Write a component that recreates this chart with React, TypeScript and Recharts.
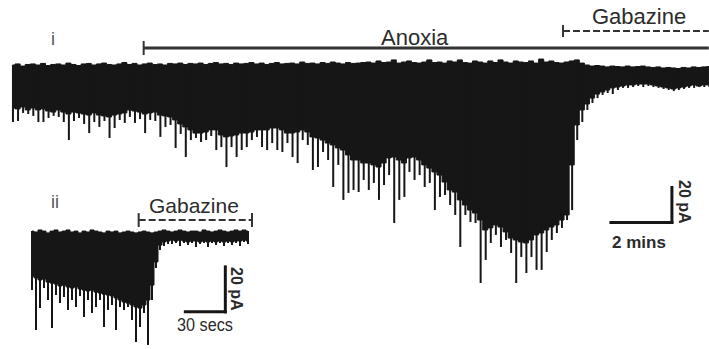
import React from 'react';
import { ComposedChart, Area, Bar, XAxis, YAxis, ReferenceLine } from 'recharts';

const W = 709;
const H = 349;

// Recording i: one value per 10 s bin (x in minutes), current in pA from the holding level
const BIN_I = 1 / 6;
const topI = [
  0, 0.6, -0.6, 0.3, 0.6, 0, 0.9, -0.3, 0.3, 0.6, 0, 1.1, 0.3, -0.3, 0.6, 0.9, 0, 0.6, 1.1, 0.3,
  0, 0.6, 1.4, 0.3, 0.9, 0, 0.6, 1.1, 0.3, 0.6, 0, 0.9, 0.6, 1.1, 0.3,
  0.9, 0.6, 1.1, 0.3, 0.9, 1.4, 0.6, 0.9, 0.3, 1.1, 0.6, 0.9, 1.4, 0.6, 1.1, 0.3, 0.9, 1.4, 0.6, 0.9,
  1.1, 0.6, 1.7, 0.9, 1.1, 0.6, 1.4, 0.9, 1.7, 1.1, 0.6, 1.4, 0.9, 1.1,
  1.4, 1.7, 1.1, 2.3, 1.4, 1.7, 2.9, 1.1, 1.7, 2.3, 1.4, 1.1, 1.7, 2.9, 1.4, 1.7, 1.1, 2.3, 1.7, 2.9,
  1.4, 1.1, 2.3, 1.7, 1.1, 2.3, 1.4, 2.9, 1.7, 1.1, 2.3, 1.7, 1.4, 2.3, 1.1, 3.4, 1.7, 2.3, 1.4, 1.1,
  1.7, 2.3,
  2.9, 1.1, 0, -0.6, -0.3, -0.6, -1.1, -0.6, -0.9, -1.1, -0.6, -1.1, -0.9, -0.6, -1.1, -1.4, -1.1,
  -1.7, -1.4, -1.7, -2.0, -1.4, -1.7, -1.1, -1.4, -1.1, -0.9,
];
// lower edge of the dense sIPSC band
const baseI = [
  -24.6, -25.1, -24.0, -25.7, -24.6, -25.7, -25.1, -26.3, -26.9, -25.7,
  -26.9, -28.0, -26.9, -27.4, -28.0, -28.6, -27.4, -28.6, -29.1, -29.7,
  -28.6, -28.0, -27.4, -25.7, -26.3, -26.9, -28.0, -27.4, -26.9, -28.6,
  -29.1, -29.7, -31.4, -33.7, -35.4, -37.1, -38.9, -38.9, -38.3, -37.1,
  -37.1, -40.0, -41.1, -40.6, -40.0, -38.9, -38.9, -38.3, -37.1, -37.1,
  -37.1, -36.0, -36.0, -37.1, -38.9, -38.9, -38.3, -37.1, -38.3, -41.1,
  -41.7, -42.9, -44.6, -45.7, -47.4, -48.6, -51.4, -54.3, -54.3, -56.0,
  -56.0, -57.1, -58.3, -56.0, -53.1, -52.6, -54.3, -56.0, -53.1, -52.6,
  -54.3, -57.1, -58.9, -61.1, -62.9, -66.9, -71.4, -72.6, -77.1, -80.0,
  -82.9, -84.6, -88.6, -94.3, -93.1, -91.4, -92.6, -95.4, -98.9, -100.0,
  -101.1, -101.7, -100.0, -97.1, -96.0, -94.3, -92.6, -91.4, -88.6, -85.7,
  -57.1, -34.3, -25.7, -22.3, -18.9, -16.6, -15.4, -14.3, -13.1, -12.6,
  -12.0, -11.4, -11.4, -10.9, -10.9, -10.9, -11.4, -12.0, -12.6, -13.1,
  -13.7, -13.1, -12.6, -12.0, -11.4, -12.0, -11.4, -11.4,
];
// deepest event in each bin
const peakI = [
  -32.6, -32.0, -27.4, -28.0, -29.1, -32.6, -32.6, -30.3, -29.1, -29.7,
  -32.6, -42.9, -32.0, -30.3, -33.7, -38.9, -32.6, -35.4, -32.0, -41.7,
  -36.0, -31.4, -33.1, -29.7, -33.1, -30.9, -38.9, -31.4, -32.0, -41.1,
  -35.4, -34.3, -47.4, -39.4, -52.6, -42.9, -41.7, -44.0, -42.9, -40.6,
  -48.6, -46.9, -58.3, -46.9, -52.6, -48.6, -46.9, -42.9, -41.1, -46.9,
  -48.6, -44.6, -48.6, -49.7, -44.6, -52.6, -56.0, -42.9, -45.7, -60.0,
  -58.3, -49.7, -54.3, -69.7, -57.1, -77.1, -73.1, -71.4, -72.6, -65.7,
  -71.4, -67.4, -77.1, -68.6, -62.9, -90.3, -77.1, -75.4, -61.1, -65.7,
  -62.9, -69.7, -67.4, -82.9, -75.4, -74.3, -80.0, -85.7, -104.0, -85.7,
  -89.7, -90.3, -124.6, -111.4, -101.7, -97.1, -104.0, -100.0, -107.4, -124.6,
  -109.7, -118.9, -109.7, -117.1, -117.1, -106.9, -100.0, -96.0, -93.1, -88.6,
  -82.9, -42.9, -32.6, -25.7, -21.7, -18.9, -17.1, -16.0, -16.6, -14.3,
  -13.1, -13.1, -12.6, -12.0, -12.6, -12.0, -12.6, -13.1, -13.7, -14.3,
  -14.9, -14.3, -13.7, -13.1, -13.1, -12.6, -12.6, -12.6,
];

// Recording ii: 3 s bins (x in seconds)
const BIN_II = 3;
const topII = [
  0.4, 0, 0.9, 0.4, -0.4, 0.4, 0.9, 0, 0.4, 0.9, 0, 0.4, -0.4, 0.4, 0, 0.9, 0.4, 0, -0.4, 0.4,
  0, 0.4, -0.4, 0, 0.4, 0, -0.4, 0, 0.4, 0,
  -0.4, 0, 0.4, 0.9, 0.4, 0, 0.4, 0.9, 0.4, 0, 0.4, 0.4, 0, 0.9, 0.4, 0, 0.4, 0.9, 0.4, 0,
  0.4, 0.9, 0.4, 0.9, 0.4,
];
const baseII = [
  -19.6, -20.4, -21.3, -20.9, -22.2, -22.7, -23.1, -24.0, -23.6, -24.4,
  -24.9, -24.4, -25.3, -25.8, -26.2, -25.8, -26.7, -27.1, -27.6, -28.0,
  -28.4, -29.3, -30.2, -31.1, -31.6, -32.4, -33.3, -33.8, -32.4, -30.2,
  -23.6, -13.3, -5.8, -4.4, -4.0, -3.6, -4.0, -3.6, -4.0, -4.4,
  -4.0, -4.0, -4.4, -4.0, -4.4, -4.0, -4.4, -4.0, -4.4, -4.0,
  -4.4, -4.0, -4.0, -3.6, -4.0,
];
const peakII = [
  -25.8, -43.6, -33.8, -24.9, -30.2, -42.7, -28.0, -31.6, -28.9, -34.7,
  -30.2, -33.3, -28.4, -37.8, -30.2, -36.0, -33.3, -30.2, -42.2, -34.7,
  -32.4, -43.6, -33.3, -34.7, -33.3, -39.1, -48.9, -42.2, -36.0, -50.2,
  -30.2, -16.0, -8.0, -6.2, -5.3, -5.3, -4.9, -6.2, -4.9, -5.8,
  -4.9, -6.7, -5.3, -4.9, -6.7, -4.9, -5.8, -4.9, -6.2, -4.9,
  -5.8, -4.9, -6.2, -4.4, -5.3,
];

const ANOXIA_START = 4.3; // min
const GBZ_I_START = 18.05; // min
const GBZ_II = [80, 165]; // s

const rowsI = topI.map((top, i) => ({ t: i * BIN_I, band: [top, baseI[i]], peak: [top, peakI[i]] }));
const rowsII = topII.map((top, i) => ({ t: i * BIN_II, band: [top, baseII[i]], peak: [top, peakII[i]] }));

const INK = '#161616';
const TXT = '#2b2b2b';
const zero = { top: 0, right: 0, bottom: 0, left: 0 };
const layer: React.CSSProperties = { position: 'absolute', left: 0, top: 0 };

export default function App() {
  return (
    <div style={{ position: 'fixed', left: 0, top: 0, width: W, height: H, background: '#fff', overflow: 'hidden' }}>
      <div style={layer}>
        <ComposedChart width={W} height={H} data={rowsI} margin={zero}>
          <XAxis dataKey="t" type="number" domain={[-0.41, 22.836]} hide allowDataOverflow />
          <YAxis type="number" domain={[-162.3, 37.14]} hide allowDataOverflow />
          <Bar dataKey="peak" barSize={2} fill={INK} isAnimationActive={false} />
          <Area dataKey="band" type="step" stroke={INK} strokeWidth={1} fill={INK} fillOpacity={1}
            dot={false} activeDot={false} isAnimationActive={false} />
          <ReferenceLine segment={[{ x: ANOXIA_START, y: 9.7 }, { x: 22.83, y: 9.7 }]} stroke="#333" strokeWidth={3} />
          <ReferenceLine segment={[{ x: ANOXIA_START, y: 13.7 }, { x: ANOXIA_START, y: 5.7 }]} stroke="#333" strokeWidth={2} />
          <ReferenceLine segment={[{ x: GBZ_I_START, y: 19.4 }, { x: 22.83, y: 19.4 }]} stroke="#333" strokeWidth={2} strokeDasharray="7 3" />
          <ReferenceLine segment={[{ x: GBZ_I_START, y: 22.9 }, { x: GBZ_I_START, y: 16 }]} stroke="#333" strokeWidth={2} />
          {/* scale bar: 20 pA / 2 min */}
          <ReferenceLine segment={[{ x: 21.62, y: -70 }, { x: 21.62, y: -90 }]} stroke={INK} strokeWidth={3} strokeLinecap="square" />
          <ReferenceLine segment={[{ x: 19.62, y: -90 }, { x: 21.62, y: -90 }]} stroke={INK} strokeWidth={3} strokeLinecap="square" />
        </ComposedChart>
      </div>
      <div style={layer}>
        <ComposedChart width={W} height={H} data={rowsII} margin={zero}>
          <XAxis dataKey="t" type="number" domain={[-24, 507.75]} hide allowDataOverflow />
          <YAxis type="number" domain={[-52, 103.1]} hide allowDataOverflow />
          <Bar dataKey="peak" barSize={2} fill={INK} isAnimationActive={false} />
          <Area dataKey="band" type="step" stroke={INK} strokeWidth={1} fill={INK} fillOpacity={1}
            dot={false} activeDot={false} isAnimationActive={false} />
          <ReferenceLine segment={[{ x: GBZ_II[0], y: 5.3 }, { x: GBZ_II[1], y: 5.3 }]} stroke="#333" strokeWidth={2} strokeDasharray="7 3" />
          <ReferenceLine segment={[{ x: GBZ_II[0], y: 8.4 }, { x: GBZ_II[0], y: 2.2 }]} stroke="#333" strokeWidth={2} />
          <ReferenceLine segment={[{ x: GBZ_II[1], y: 8.4 }, { x: GBZ_II[1], y: 2.2 }]} stroke="#333" strokeWidth={2} />
          {/* scale bar: 20 pA / 30 s */}
          <ReferenceLine segment={[{ x: 145, y: -15.5 }, { x: 145, y: -35.5 }]} stroke={INK} strokeWidth={3} strokeLinecap="square" />
          <ReferenceLine segment={[{ x: 115, y: -35.5 }, { x: 145, y: -35.5 }]} stroke={INK} strokeWidth={3} strokeLinecap="square" />
        </ComposedChart>
      </div>
      <svg width={W} height={H} style={{ ...layer, pointerEvents: 'none' }}
        fontFamily="'Liberation Sans', Arial, sans-serif">
        <text x={51} y={45} fontSize={18} fill="#555">i</text>
        <text x={381} y={45} fontSize={22} fill={TXT}>Anoxia</text>
        <text x={592} y={24} fontSize={22} fill={TXT}>Gabazine</text>
        <text x={51} y={208} fontSize={18} fill="#555">ii</text>
        <text x={149} y={213} fontSize={21} fill={TXT}>Gabazine</text>
        <text x={612} y={248} fontSize={17} fontWeight="bold" fill={TXT}>2 mins</text>
        <text transform="translate(679,180) rotate(90)" fontSize={16} fontWeight="bold" fill={TXT}>20 pA</text>
        <text x={177} y={331} fontSize={18} fill={TXT} textLength={56} lengthAdjust="spacingAndGlyphs">30 secs</text>
        <text transform="translate(231,267) rotate(90)" fontSize={16} fontWeight="bold" fill={TXT}>20 pA</text>
      </svg>
    </div>
  );
}
